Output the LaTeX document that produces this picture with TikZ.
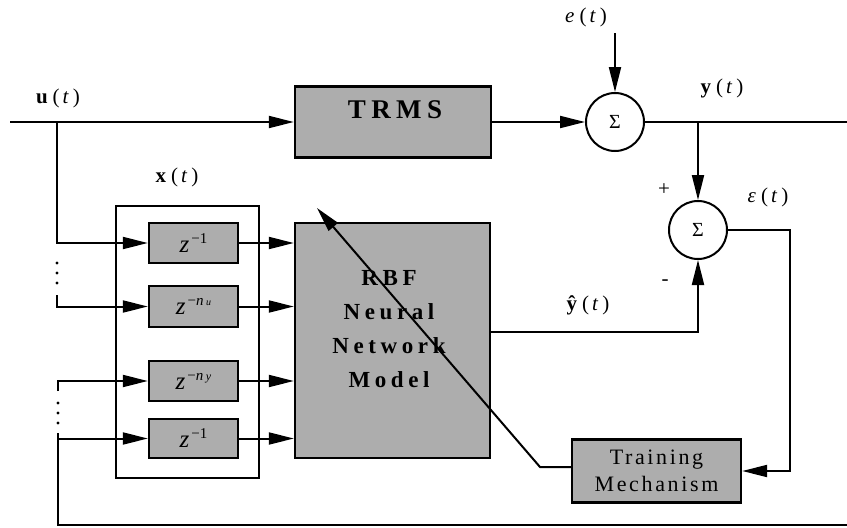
\documentclass[tikz,border=0pt]{standalone}
\usepackage{fontspec}
\setmainfont{Liberation Serif}
\newfontfamily\spacedfont[LetterSpace=20]{Liberation Serif}
\newfontfamily\spacedlight[LetterSpace=12]{Liberation Serif}
\usetikzlibrary{arrows.meta}
\newcommand\sigl[2]{#1\hspace{5pt}(\hspace{3pt}\textit{#2}\hspace{4pt})}
\newcommand\zpow[1]{\textit{z}\hspace{2pt}\raisebox{9pt}{\fontsize{15}{15}\selectfont #1}}
\begin{document}
\begin{tikzpicture}[x=1pt,y=-1pt,
  lin/.style={line width=2pt},
  arr/.style={lin,-{Triangle[length=25pt,width=12pt]}},
  blk/.style={draw,line width=2.4pt,fill=black!32,inner sep=0pt},
  sumc/.style={circle,draw,line width=2pt,minimum size=58pt,inner sep=0pt,font=\fontsize{20}{24}\selectfont},
  lbl/.style={font=\fontsize{21}{24}\selectfont,inner sep=0pt},
  dly/.style={blk,minimum width=89pt,minimum height=40pt,font=\fontsize{25}{28}\selectfont},
  dotm/.style={fill=black}
]
\useasboundingbox (0,0) rectangle (847,528);

% blocks
\node[blk,minimum width=196pt,minimum height=71pt] (trms) at (393,122) {};
\node[inner sep=0pt,font=\fontsize{27}{30}\spacedfont\bfseries] (trmst) at (395,110) {TRMS};
\node[blk,minimum width=195pt,minimum height=235pt] (rbf) at (392.5,340.5) {};
\node[inner sep=0pt,align=center,font=\fontsize{23}{34}\spacedfont\bfseries] (rbft) at (389,329) {RBF\\Neural\\Network\\Model};
\node[blk,minimum width=169pt,minimum height=63pt,align=center,font=\fontsize{22}{27}\spacedlight] (tm) at (656.5,471) {Training\\Mechanism};

\draw[lin] (116,206) rectangle (259,478);
\node[dly] (d1) at (193.5,243) {\zpow{−1}};
\node[dly,minimum height=41pt] (d2) at (193.5,306.5) {\zpow{−\textit{n}\,{\fontsize{10}{10}\selectfont\textit{u}}}};
\node[dly] (d3) at (193.5,381) {\zpow{−\textit{n}\,{\fontsize{12}{12}\selectfont\textit{y}}}};
\node[dly,minimum height=39pt] (d4) at (193.5,438.5) {\zpow{−1}};

\node[sumc] (s1) at (615,122) {Σ};
\node[sumc] (s2) at (698,230) {Σ};

% labels
\node[lbl] (lu) at (58,98) {\sigl{\textbf{u}}{t}};
\node[lbl] (lx) at (177,177) {\sigl{\textbf{x}}{t}};
\node[lbl] (le) at (586,17) {\sigl{\textit{e}}{t}};
\node[lbl] (ly) at (722,88) {\sigl{\textbf{y}}{t}};
\node[lbl] (leps) at (768,197) {\sigl{\textit{ε}}{t}};
\node[lbl] (lyh) at (588,305) {\sigl{\textbf{ŷ}}{t}};
\node[lbl] (lp) at (664,190) {+};
\node[lbl] (lm) at (665,283) {-};

% coordinates
\coordinate (uin) at (10,122);
\coordinate (ua) at (57,122);
\coordinate (u2) at (57,295);
\coordinate (y3) at (58,391);
\coordinate (y4) at (58,433);
\coordinate (yb1) at (58,525);
\coordinate (yb2) at (847,525);
\coordinate (etop) at (615,33);
\coordinate (yend) at (847,122);
\coordinate (yb) at (698,122);
\coordinate (er) at (790,471);
\coordinate (yh) at (698,332);
\coordinate (tk) at (540,467);
\coordinate (ttip) at (317,208);

% connectors
\draw[arr] (uin) -- (trms.west);
\draw[arr] (trms.east) -- (s1.west);
\draw[arr] (etop) -- (s1.north);
\draw[lin] (s1.east) -- (yend);
\draw[arr] (yb) -- (s2.north);
\draw[arr] (s2.east) -| (er) -- (tm.east);
\draw[arr] (rbf.east |- yh) -- (yh) -- (s2.south);
\draw[arr] (tm.west |- tk) -- (tk) -- (ttip);

\draw[arr] (ua) |- (d1.west);
\draw[arr] (u2) |- (d2.west);
\draw[arr] (y3) |- (d3.west);
\draw[arr] (y4) |- (d4.west);
\draw[lin] (y4) -- (yb1) -- (yb2);
\foreach \yy in {263,273,283} \fill[dotm] (57,\yy) circle (1.6pt);
\foreach \yy in {403,413,423} \fill[dotm] (58,\yy) circle (1.6pt);

\draw[arr] (d1.east) -- (rbf.west |- d1.east);
\draw[arr] (d2.east) -- (rbf.west |- d2.east);
\draw[arr] (d3.east) -- (rbf.west |- d3.east);
\draw[arr] (d4.east) -- (rbf.west |- d4.east);
\end{tikzpicture}
\end{document}
